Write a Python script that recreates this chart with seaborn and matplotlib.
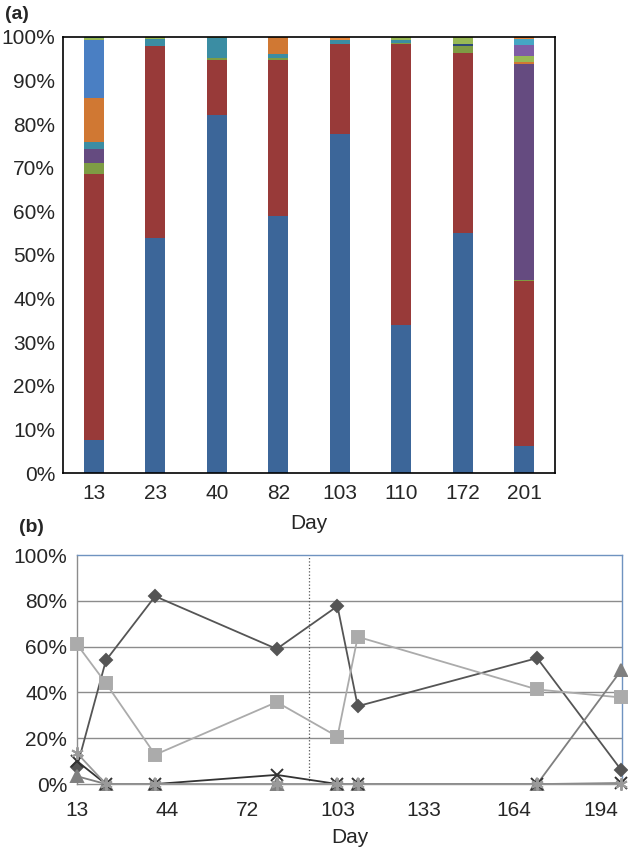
import matplotlib
matplotlib.use('Agg')
import matplotlib.pyplot as plt
import seaborn as sns
import numpy as np

# sampling days
days = [13, 23, 40, 82, 103, 110, 172, 201]
day_labels = [str(d) for d in days]

# relative abundance (%) per group, stacked bottom to top
blue = [7.5, 54, 82, 59, 77.7, 34, 55, 6.2]
red = [61, 44, 12.8, 35.8, 20.7, 64.3, 41.3, 37.8]
olive = [2.5, 0, 0.3, 0.4, 0, 0.4, 1.7, 0.3]
purple = [3.4, 0, 0, 0, 0, 0, 0, 49.6]
teal = [1.5, 1.5, 4.6, 0.8, 0.9, 0.6, 0, 0]
orange = [10, 0, 0, 4.0, 0, 0, 0, 0.3]
light_blue = [13.5, 0, 0, 0, 0, 0, 0, 0]
navy = [0, 0, 0, 0, 0, 0, 0.5, 0]
light_green = [0.3, 0.5, 0.3, 0, 0, 0.7, 1.5, 1.5]
light_purple = [0, 0, 0, 0, 0, 0, 0, 2.4]
aqua = [0.3, 0, 0, 0, 0, 0, 0, 1.4]
light_orange = [0, 0, 0, 0, 0.7, 0, 0, 0.5]

stack = [blue, red, olive, purple, teal, orange, light_blue, navy,
         light_green, light_purple, aqua, light_orange]
stack_colors = ['#3C6699', '#983A39', '#7E9C44', '#654B80', '#3B8DA3', '#D07833',
                '#4A7FC3', '#2E4A78', '#98B955', '#7F5DA5', '#46A6C4', '#E8893F']

# panel (b): the main groups over time
line_series = [blue, red, purple, orange, light_blue]
line_colors = ['#555555', '#ABABAB', '#7F7F7F', '#333333', '#9A9A9A']
line_markers = ['D', 's', '^', 'x', (6, 2, 0)]
marker_sizes = [6, 8, 8, 8, 9]

sns.set_style('white')
plt.rcParams['font.family'] = ['Liberation Sans', 'DejaVu Sans']

fig = plt.figure(figsize=(6.28, 8.5), dpi=100)

# ---- (a) stacked bars
ax1 = fig.add_axes([0.1003, 0.4435, 0.7834, 0.513])
tops = np.cumsum(np.array(stack), axis=0)
for i in reversed(range(len(stack))):
    sns.barplot(x=day_labels, y=tops[i], color=stack_colors[i], width=0.33,
                saturation=1, ax=ax1, edgecolor='none')
ax1.set_ylim(0, 100)
ax1.set_xlim(-0.5, 7.5)
ax1.set_yticks(range(0, 101, 10))
ax1.set_yticklabels([f'{v}%' for v in range(0, 101, 10)])
ax1.tick_params(axis='y', length=7, direction='inout', width=1, labelsize=15, pad=2)
ax1.tick_params(axis='x', length=0, labelsize=15, pad=8)
for s in ax1.spines.values():
    s.set_color('black')
    s.set_linewidth(1.2)
ax1.set_xlabel('Day', fontsize=15, labelpad=8)
ax1.set_ylabel('')
fig.text(0.008, 0.983, '(a)', fontsize=14, fontweight='bold', va='center')

# ---- (b) lines
ax2 = fig.add_axes([0.1226, 0.0776, 0.8678, 0.2694])
for vals, c, m, ms in zip(line_series, line_colors, line_markers, marker_sizes):
    sns.lineplot(x=days, y=vals, ax=ax2, color=c, marker=m, markersize=ms,
                 markeredgecolor=c, markeredgewidth=1.4, linewidth=1.3,
                 clip_on=False, zorder=3)
ax2.axvline(93, color='#555555', linestyle=':', linewidth=0.9)
ax2.set_xlim(13, 201.3)
ax2.set_ylim(0, 100)
ax2.set_xticks([13, 44, 72, 103, 133, 164, 194])
ax2.set_yticks(range(0, 101, 20))
ax2.set_yticklabels([f'{v}%' for v in range(0, 101, 20)])
for v in range(20, 100, 20):
    ax2.axhline(v, color='#8C8C8C', linewidth=1, zorder=1)
ax2.tick_params(axis='both', length=0, labelsize=15)
ax2.tick_params(axis='x', pad=12)
ax2.tick_params(axis='y', pad=7)
ax2.spines['left'].set_color('#8C8C8C')
ax2.spines['bottom'].set_color('#8C8C8C')
ax2.spines['top'].set_color('#6F93C0')
ax2.spines['right'].set_color('#6F93C0')
for s in ax2.spines.values():
    s.set_linewidth(1)
ax2.set_xlabel('Day', fontsize=15, labelpad=6)
fig.text(0.03, 0.38, '(b)', fontsize=14, fontweight='bold', va='center')

fig.savefig('out.png', dpi=100)
